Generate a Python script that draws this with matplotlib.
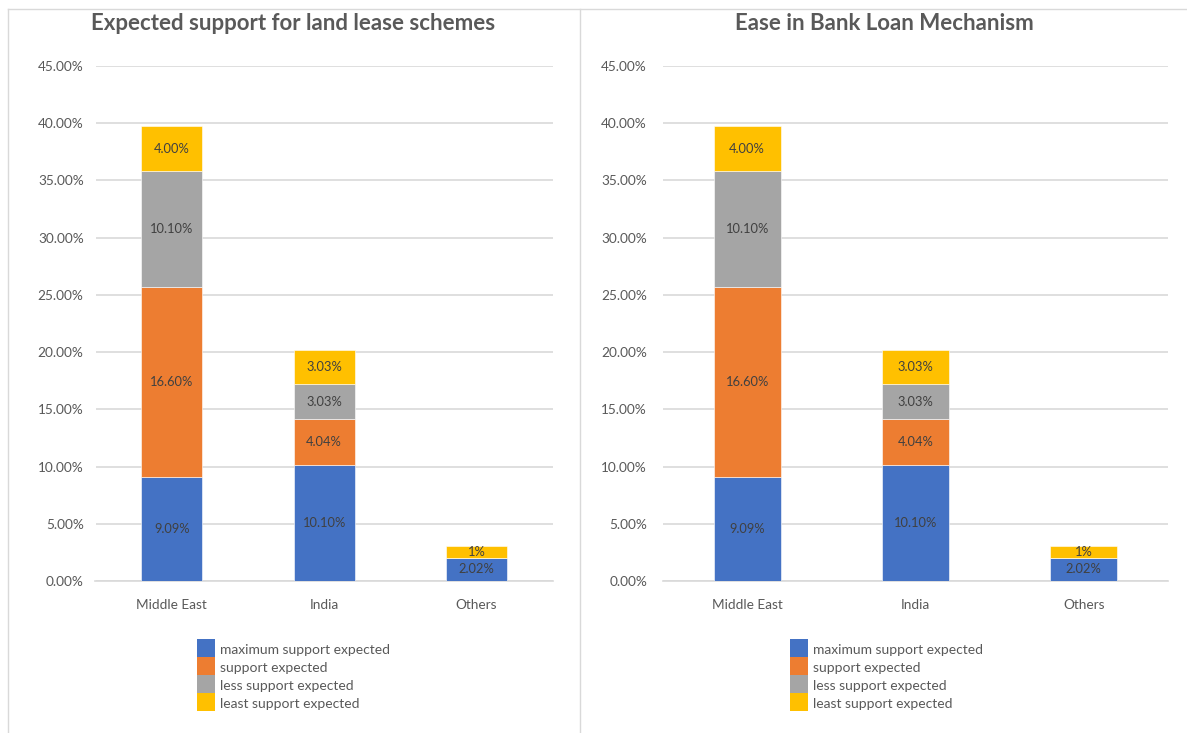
import matplotlib
matplotlib.use("Agg")
import matplotlib.pyplot as plt
from matplotlib.lines import Line2D
from matplotlib.patches import Rectangle
from matplotlib.ticker import PercentFormatter
import numpy as np

plt.rcParams['font.family'] = ['Lato', 'DejaVu Sans']

regions = ["Middle East", "India", "Others"]
series_names = ["maximum support expected", "support expected",
                "less support expected", "least support expected"]
colors = ["#4472C4", "#ED7D31", "#A5A5A5", "#FFC000"]

# shares per region for each response level (fractions)
land_max = [0.0909, 0.1010, 0.0202]
land_support = [0.1660, 0.0404, 0.0]
land_less = [0.1010, 0.0303, 0.0]
land_least = [0.0400, 0.0303, 0.01]

loan_max = [0.0909, 0.1010, 0.0202]
loan_support = [0.1660, 0.0404, 0.0]
loan_less = [0.1010, 0.0303, 0.0]
loan_least = [0.0400, 0.0303, 0.01]

# the "Others / least" cell is shown without decimals
label_decimals = {(3, 2): 0}

yticks = [0.0, 0.05, 0.10, 0.15, 0.20, 0.25, 0.30, 0.35, 0.40, 0.45]

W, H = 1187, 733
fig = plt.figure(figsize=(W / 100, H / 100), dpi=100)
fig.patch.set_facecolor("white")

txt_gray = "#595959"
lbl_color = "#404040"
grid_color = "#D9D9D9"


def fx(px):
    return px / W


def fy(py):
    return 1 - py / H


def draw_legend(left_px, top_px):
    box = 17.9
    for i, (name, col) in enumerate(zip(series_names, colors)):
        y0 = top_px + i * box
        fig.add_artist(Rectangle((fx(left_px), fy(y0 + box)), fx(18), box / H,
                                 facecolor=col, edgecolor="none",
                                 transform=fig.transFigure))
        fig.text(fx(left_px + 23.5), fy(y0 + box / 2 + 2), name,
                 ha="left", va="center", fontsize=10, color=txt_gray)


def draw_panel(ax_rect, title, series, title_cx, ytick_pad):
    ax = fig.add_axes(ax_rect)
    x = np.arange(len(regions))
    bottom = np.zeros(len(regions))
    for si, (vals, name, col) in enumerate(zip(series, series_names, colors)):
        vals = np.array(vals)
        ax.bar(x, vals, width=0.4, bottom=bottom, color=col,
               edgecolor="white", linewidth=0.4, label=name, zorder=3)
        for ci, (v, b) in enumerate(zip(vals, bottom)):
            if v <= 0:
                continue
            dec = label_decimals.get((si, ci), 2)
            ax.text(x[ci], b + v / 2, f"{v * 100:.{dec}f}%", ha="center",
                    va="center", fontsize=9.3, color=lbl_color, zorder=4)
        bottom = bottom + vals
    ax.set_xlim(-0.5, len(regions) - 0.5)
    ax.set_ylim(0, 0.45)
    ax.set_yticks(yticks)
    ax.yaxis.set_major_formatter(PercentFormatter(1.0, decimals=2))
    ax.set_xticks(x)
    ax.set_xticklabels(regions)
    ax.tick_params(axis="both", length=0, labelsize=9.8, labelcolor=txt_gray)
    ax.tick_params(axis="y", pad=ytick_pad)
    ax.tick_params(axis="x", pad=13)
    ax.grid(axis="y", color=grid_color, linewidth=1.2, zorder=0)
    for s in ["top", "right", "left"]:
        ax.spines[s].set_visible(False)
    ax.spines["bottom"].set_color(grid_color)
    ax.spines["bottom"].set_linewidth(1.2)
    fig.text(fx(title_cx), fy(30.5), title, ha="center", va="baseline",
             fontsize=16, fontweight="bold", color=txt_gray)
    return ax


draw_panel([fx(95.5), fy(581), fx(552.8 - 95.5), (581 - 66) / H],
           "Expected support for land lease schemes",
           [land_max, land_support, land_less, land_least], 293.5, 8.5)
draw_legend(196.5, 639)

draw_panel([fx(663), fy(581), fx(1168 - 663), (581 - 66) / H],
           "Ease in Bank Loan Mechanism",
           [loan_max, loan_support, loan_less, loan_least], 884, 11.5)
draw_legend(790, 639)

# chart area borders
border = "#D9D9D9"
fig.add_artist(Line2D([fx(7.5), fx(7.5)], [0, fy(9)], color=border, lw=1))
fig.add_artist(Line2D([fx(579.5), fx(579.5)], [0, fy(9)], color=border, lw=1))
fig.add_artist(Line2D([fx(7.5), 1], [fy(9), fy(9)], color=border, lw=1))

fig.savefig("out.png", dpi=100, facecolor="white")
